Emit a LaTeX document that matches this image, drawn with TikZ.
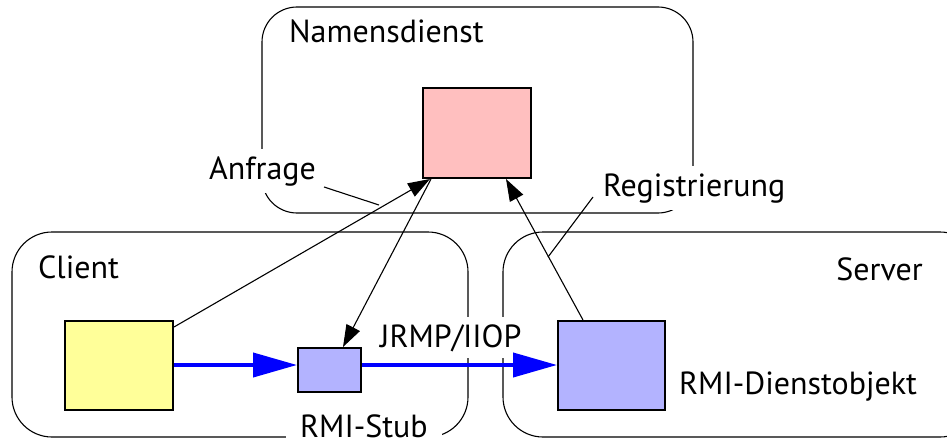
\documentclass[tikz,border=0pt]{standalone}
\usepackage{fontspec}
\setmainfont{PT Sans}
\usetikzlibrary{arrows.meta,positioning}
\definecolor{pinkbox}{HTML}{FFBFBF}
\definecolor{yellowbox}{HTML}{FFFF99}
\definecolor{lilabox}{HTML}{B3B3FF}
\definecolor{arrowblue}{HTML}{0000FF}
\tikzset{
  region/.style={draw=black, line width=1.1pt},
  compbox/.style={draw=black, line width=2pt, minimum width=#1, inner sep=0pt},
  lbl/.style={font=\fontsize{32}{32}\selectfont, inner sep=0pt, anchor=base west},
  bglbl/.style={font=\fontsize{32}{32}\selectfont, fill=white, inner sep=7pt, anchor=base west},
  callarrow/.style={draw=black, line width=1.1pt, -{Triangle[length=22pt,width=15pt]}},
  leader/.style={draw=black, line width=1.1pt},
  bluearrow/.style={draw=arrowblue, line width=4pt, -{Triangle[length=44pt,width=24pt]}},
}
\begin{document}
\begin{tikzpicture}[x=1pt,y=-1pt]
\useasboundingbox (0,0) rectangle (947,441);
% regions
\draw[region, rounded corners=35pt] (262,7) rectangle (693,213);
\draw[region, rounded corners=40pt] (12,232) rectangle (468,437);
\draw[region, rounded corners=40pt] (503,232) rectangle (980,437);
% region titles
\node[lbl] (tnd) at (289,43) {Namensdienst};
\node[lbl] (tcl) at (38,278) {Client};
\node[lbl, anchor=base east] (tsv) at (923,280) {Server};
% labels with white background
\node[bglbl] (lanf) at (202,179) {Anfrage};
\node[bglbl] (lreg) at (596,196) {Registrierung};
\node[bglbl] (ljr) at (373,347) {JRMP/IIOP};
\node[bglbl, inner xsep=14pt, inner ysep=2.5pt] (lstub) at (286,437) {RMI-Stub};
\node[lbl] (ldo) at (679,394) {RMI-Dienstobjekt};
% components
\node[compbox=108pt, minimum height=90pt, fill=pinkbox] (ns) at (477,133) {};
\node[compbox=108pt, minimum height=89pt, fill=yellowbox] (cl) at (119,365.5) {};
\node[compbox=63pt, minimum height=44pt, fill=lilabox] (stub) at (329.5,370) {};
\node[compbox=107pt, minimum height=89pt, fill=lilabox] (srv) at (611.5,365.5) {};
% call arrows
\draw[callarrow] ([yshift=-7pt]cl.north east) -- ([xshift=8pt]ns.south west);
\draw[callarrow] ([xshift=9pt]ns.south west) -- ([xshift=13.5pt]stub.north);
\draw[callarrow] ([xshift=26pt]srv.north west) -- ([xshift=-26pt]ns.south east);
% leaders
\coordinate (anfend) at (379,205);
\coordinate (regend) at (548,257);
\draw[leader] (324,187) -- (anfend);
\draw[leader] (593,197) -- (regend);
% blue protocol arrows
\draw[bluearrow] (cl.east |- 0,365) -- (stub.west |- 0,365);
\draw[bluearrow] (stub.east |- 0,365) -- (srv.west |- 0,365);
\end{tikzpicture}
\end{document}
